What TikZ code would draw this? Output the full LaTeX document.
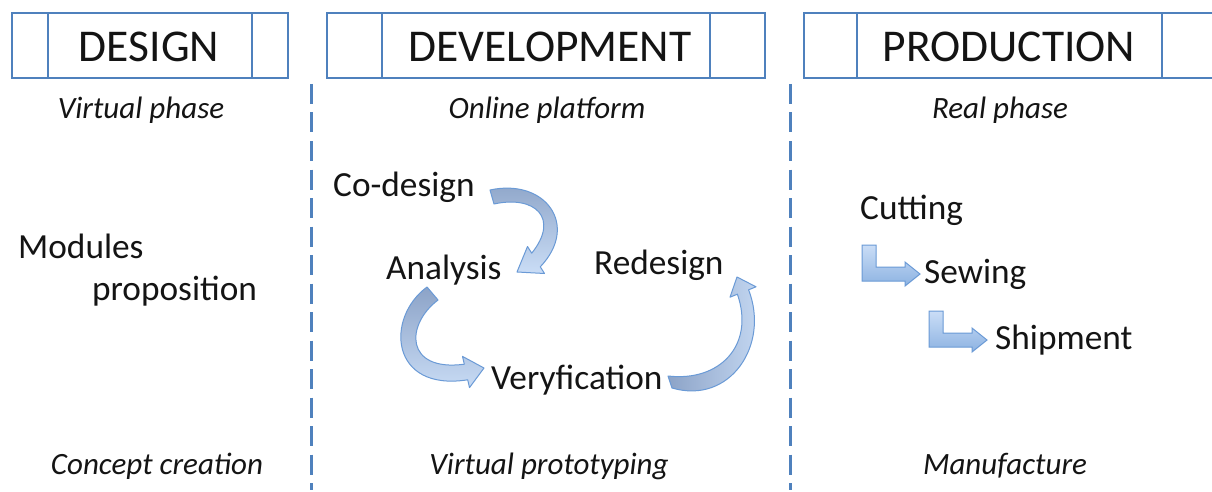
\documentclass[tikz,border=0pt]{standalone}
\usepackage{fontspec}
\setmainfont{Carlito}
\definecolor{boxblue}{HTML}{4F81BD}
\definecolor{arrowline}{HTML}{6A9AD6}
\definecolor{txt}{HTML}{141414}
\definecolor{darkb}{HTML}{8CA3C7}
\definecolor{lightb}{HTML}{CADDF6}
\definecolor{midb}{HTML}{8DB3E2}
\begin{document}
\begin{tikzpicture}[x=1pt,y=-1pt,
 boxline/.style={draw=boxblue,line width=2pt},
 title/.style={font=\fontsize{45.5}{52}\selectfont, text=txt, inner sep=0pt, anchor=base},
 phase/.style={font=\fontsize{31}{37}\selectfont\itshape, text=txt, inner sep=0pt, anchor=base},
 item/.style={font=\fontsize{35.3}{42}\selectfont, text=txt, inner sep=0pt, anchor=base west},
 curvearrow/.style={draw=arrowline, line width=1pt, line join=round},
 larrow/.style={draw=arrowline, line width=1pt, line join=miter, top color=lightb, bottom color=midb},
 sep/.style={draw=boxblue, line width=3pt, dash pattern=on 20pt off 8.5pt}]
\useasboundingbox (0,0) rectangle (1212,492);
\clip (0,0) rectangle (1212,492);
\fill[white] (0,0) rectangle (1212,492);
% header boxes
\draw[boxline] (12,13) rectangle (288,78);
\draw[boxline] (48,13) -- (48,78) (252,13) -- (252,78);
\draw[boxline] (327,13) rectangle (765,78);
\draw[boxline] (382,13) -- (382,78) (710,13) -- (710,78);
\draw[boxline] (804,13) rectangle (1230,78);
\draw[boxline] (857,13) -- (857,78) (1162,13) -- (1162,78);
\node[title] (tdesign) at (149,62) {DESIGN};
\node[title] (tdev) at (550,62) {DEVELOPMENT};
\node[title] (tprod) at (1009,62) {PRODUCTION};
% separators
\draw[sep] (311,84) -- (311,490);
\draw[sep] (790,84) -- (790,490);
% phase labels
\node[phase] (p1) at (141,118) {Virtual phase};
\node[phase] (p2) at (547,118) {Online platform};
\node[phase] (p3) at (1000,118) {Real phase};
\node[phase] (b1) at (157,474) {Concept creation};
\node[phase] (b2) at (549,474) {Virtual prototyping};
\node[phase] (b3) at (1005,474) {Manufacture};
% items
\node[item] (mod) at (18,258) {Modules};
\node[item] (prop) at (92,300) {proposition};
\node[item] (codes) at (333,196) {Co-design};
\node[item] (anal) at (386,279) {Analysis};
\node[item] (redes) at (594,274) {Redesign};
\node[item] (very) at (491,389) {Veryfication};
\node[item] (cut) at (860,219) {Cutting};
\node[item] (sew) at (924,283) {Sewing};
\node[item] (ship) at (995,349) {Shipment};
% curved arrows
\path[curvearrow, top color=darkb, bottom color=lightb]
 (490,190) .. controls (545,178) and (580,225) .. (540.3,266.8) -- (544.5,273.5) -- (517,272)
 -- (527.5,246.5) -- (531.7,253.2) .. controls (560,218) and (535,195) .. (494,204) -- cycle;
\path[curvearrow, top color=darkb, bottom color=lightb]
 (427,287) .. controls (385,318) and (390,392) .. (467.7,379.8) -- (469.5,387.6) -- (484,368)
 -- (462.5,356.4) -- (464.3,364.2) .. controls (405,372) and (405,325) .. (438,300) -- cycle;
\path[curvearrow, left color=darkb, right color=lightb]
 (672,388) .. controls (730,405) and (770,345) .. (748.6,289.8) -- (756,286.8) -- (737,277)
 -- (730,297.2) -- (737.4,294.2) .. controls (755,345) and (720,382) .. (668,376) -- cycle;
% L arrows
\path[larrow] (862,245) -- (876,245) -- (876,267) -- (905,267) -- (905,262) -- (920,274)
 -- (905,286) -- (905,281) -- (862,281) -- cycle;
\path[larrow] (929,311) -- (943,311) -- (943,333) -- (972,333) -- (972,328) -- (987,340)
 -- (972,352) -- (972,347) -- (929,347) -- cycle;
\end{tikzpicture}
\end{document}
